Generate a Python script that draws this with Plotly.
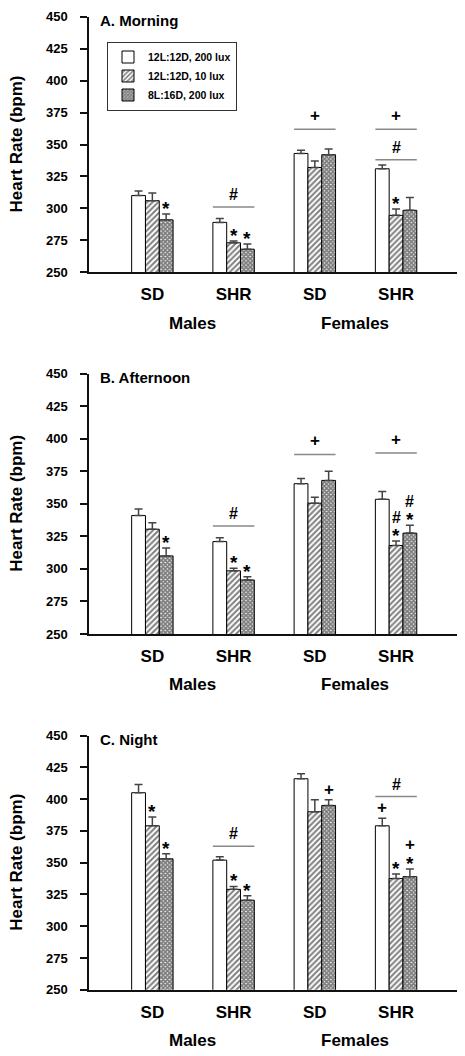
import plotly.graph_objects as go

# ---------------- data ----------------
groups = ["SD", "SHR", "SD", "SHR"]
sexes = ["Males", "Females"]
series = ["12L:12D, 200 lux", "12L:12D, 10 lux", "8L:16D, 200 lux"]
panel_titles = ["A. Morning", "B. Afternoon", "C. Night"]

morning_mean = [[310, 289, 343, 331], [306, 273, 332, 294.5], [291, 268, 342, 298.5]]
morning_se = [[3.5, 3, 2.5, 3], [6, 1.5, 5, 5], [4.5, 4, 4.5, 10]]

afternoon_mean = [[341, 321, 365.5, 353.5], [330.5, 298.5, 350.5, 318], [310, 291.5, 368, 327.5]]
afternoon_se = [[5, 3, 4, 6], [5, 2, 4.5, 3.5], [6, 2.5, 7, 6]]

night_mean = [[405, 352, 416, 379], [379, 329, 390, 337.5], [353, 320.5, 395, 339]]
night_se = [[6.5, 2.7, 4, 6], [7, 2.3, 9.5, 3.5], [4, 3.4, 4.5, 6]]

# significance marks above single bars: (group, series, symbols bottom->top)
morning_marks = [(0, 2, "*"), (1, 1, "*"), (1, 2, "*"), (3, 1, "*")]
afternoon_marks = [(0, 2, "*"), (1, 1, "*"), (1, 2, "*"), (3, 1, "*#"), (3, 2, "*#")]
night_marks = [(0, 1, "*"), (0, 2, "*"), (1, 1, "*"), (1, 2, "*"), (2, 2, "+"),
               (3, 0, "+"), (3, 1, "*"), (3, 2, "*+")]

# group brackets: (group, level in bpm, symbol)
morning_brackets = [(1, 301, "#"), (2, 362, "+"), (3, 362, "+"), (3, 338, "#")]
afternoon_brackets = [(1, 333, "#"), (2, 388, "+"), (3, 389, "+")]
night_brackets = [(1, 363, "#"), (3, 402, "#")]

y_ticks = [250, 275, 300, 325, 350, 375, 400, 425, 450]

# ---------------- layout / style ----------------
W, H = 465, 1056
FONT = "Liberation Sans, Arial, sans-serif"
panels = [
    (morning_mean, morning_se, morning_marks, morning_brackets),
    (afternoon_mean, afternoon_se, afternoon_marks, afternoon_brackets),
    (night_mean, night_se, night_marks, night_brackets),
]
ydom_px = [(10, 269), (372, 636), (739, 997)]
xdom_px = (89, 457)
BARGAP = 0.49
bw = (1 - BARGAP) / 3

patterns = [
    dict(shape=""),
    dict(shape="/", fgcolor="black", bgcolor="white", size=4, solidity=0.5),
    dict(shape="x", fgcolor="black", bgcolor="white", size=3, solidity=0.85),
]

fig = go.Figure()
annotations = []
shapes = []
layout_axes = {}

sym_size = {"*": 19, "#": 16, "+": 17}
sym_shift = {"*": -7, "#": -1, "+": -1}

for p, (means, ses, marks, brackets) in enumerate(panels):
    xa = "x" if p == 0 else f"x{p+1}"
    ya = "y" if p == 0 else f"y{p+1}"
    xkey = "xaxis" if p == 0 else f"xaxis{p+1}"
    ykey = "yaxis" if p == 0 else f"yaxis{p+1}"
    for j in range(3):
        fig.add_trace(go.Bar(
            x=list(range(len(groups))), y=means[j], name=series[j],
            xaxis=xa, yaxis=ya, legendgroup=series[j], showlegend=(p == 0),
            marker=dict(color="white", line=dict(color="black", width=1),
                        pattern=patterns[j]),
            error_y=dict(type="data", array=ses[j], arrayminus=[0] * 4,
                         symmetric=False, color="#444", thickness=1.5, width=4),
            hoverinfo="skip",
        ))
    top, bot = ydom_px[p]
    layout_axes[ykey] = dict(
        domain=[1 - bot / H, 1 - top / H], range=[250, 450], tickvals=y_ticks,
        anchor=xa, showline=True, linecolor="#111", linewidth=1.5,
        ticks="outside", ticklen=7, tickwidth=1.5, tickcolor="#111",
        ticklabelstandoff=10,
        tickfont=dict(family=FONT, size=13, color="black", weight="bold"),
        showgrid=False, zeroline=False,
    )
    layout_axes[xkey] = dict(
        domain=[xdom_px[0] / W, xdom_px[1] / W], range=[-0.78, 3.75],
        tickvals=list(range(len(groups))), ticktext=groups, anchor=ya,
        showline=True, linecolor="#111", linewidth=1.5, ticks="",
        ticklabelstandoff=6,
        tickfont=dict(family=FONT, size=17, color="black", weight="bold"),
        showgrid=False, zeroline=False,
    )
    # marks above bars
    for g, s, syms in marks:
        xpos = g + (s - 1) * bw
        ytop = means[s][g] + ses[s][g]
        for k, ch in enumerate(syms):
            annotations.append(dict(
                x=xpos, y=ytop, xref=xa, yref=ya, text=f"<b>{ch}</b>",
                showarrow=False, yanchor="bottom", yshift=sym_shift[ch] + 14 * k,
                font=dict(family=FONT, size=sym_size[ch], color="black")))
    # brackets
    for g, lvl, ch in brackets:
        shapes.append(dict(type="line", xref=xa, yref=ya, x0=g - 0.255, x1=g + 0.255,
                           y0=lvl, y1=lvl, line=dict(color="#888", width=1.5)))
        annotations.append(dict(
            x=g, y=lvl, xref=xa, yref=ya, text=f"<b>{ch}</b>", showarrow=False,
            yanchor="bottom", yshift=sym_shift[ch] + 3,
            font=dict(family=FONT, size=sym_size[ch], color="black")))
    # sex labels
    for k, sx in enumerate(sexes):
        annotations.append(dict(
            x=2 * k + 0.5, y=0, xref=xa, yref=f"{ya} domain", text=f"<b>{sx}</b>",
            showarrow=False, yanchor="middle", yshift=-51,
            font=dict(family=FONT, size=17, color="black")))
    # panel title
    annotations.append(dict(
        x=0, y=1, xref=f"{xa} domain", yref=f"{ya} domain", text=f"<b>{panel_titles[p]}</b>",
        showarrow=False, xanchor="left", yanchor="middle", xshift=9, yshift=-4,
        font=dict(family=FONT, size=15, color="black")))
    # y-axis title
    annotations.append(dict(
        x=17 / W, y=0.5, xref="paper", yref=f"{ya} domain", text="<b>Heart Rate (bpm)</b>",
        showarrow=False, textangle=-90, xanchor="center", yanchor="middle",
        font=dict(family=FONT, size=17, color="black")))

fig.update_layout(
    width=W, height=H, margin=dict(l=0, r=0, t=0, b=0),
    paper_bgcolor="white", plot_bgcolor="white",
    barmode="group", bargap=BARGAP, bargroupgap=0,
    annotations=annotations, shapes=shapes,
    legend=dict(x=107 / W, y=1 - 35 / H, xanchor="left", yanchor="top",
                bordercolor="#333", borderwidth=1, bgcolor="white",
                font=dict(family=FONT, size=10.5, color="black", weight="bold"),
                tracegroupgap=0, itemwidth=30),
    **layout_axes,
)

# the page body has a default 8px margin; remove it so the figure sits at (0, 0)
fig.write_html("out.html", config={"displayModeBar": False},
               post_script="document.body.style.margin='0';")
